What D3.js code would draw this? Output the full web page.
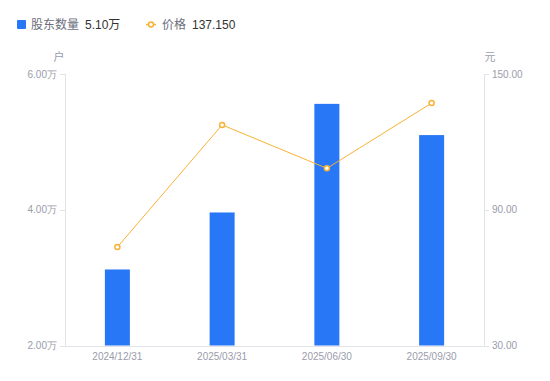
<!DOCTYPE html>
<html lang="zh">
<head>
<meta charset="UTF-8">
<title>股东数量 / 价格</title>
<script src="https://d3js.org/d3.v7.min.js"></script>
<style>
body { margin: 0; background: #fff; }
svg { font-family: "Liberation Sans", "Noto Sans CJK SC", sans-serif; }
.axis path, .axis line { stroke: #e3e4ea; shape-rendering: crispEdges; }
.axis text { fill: #9a9cab; font-size: 10px; }
.unit { fill: #9a9cab; font-size: 11px; }
.legendTxt { fill: #6b6e7c; font-size: 12px; }
.legendVal { fill: #333; font-size: 12px; }
</style>
</head>
<body>
<script>
var width = 550, height = 381;
var margin = {top: 74, right: 66, bottom: 35.5, left: 65};

// data
var dates = ["2024/12/31", "2025/03/31", "2025/06/30", "2025/09/30"];
var holders = [3.12, 3.96, 5.56, 5.10];     // 万户
var prices = [73.5, 127.5, 108.3, 137.15];  // 元
var leftTicks = [2, 4, 6];
var rightTicks = [30, 90, 150];

var svg = d3.select("body").append("svg")
    .attr("width", width)
    .attr("height", height);

var x = d3.scaleBand()
    .domain(dates)
    .range([margin.left, width - margin.right]);

var yL = d3.scaleLinear()
    .domain([2, 6])
    .range([height - margin.bottom, margin.top]);

var yR = d3.scaleLinear()
    .domain([30, 150])
    .range([height - margin.bottom, margin.top]);

// axes
svg.append("g").attr("class", "axis")
    .attr("transform", "translate(" + margin.left + ",0)")
    .call(d3.axisLeft(yL).tickValues(leftTicks).tickSizeOuter(0).tickSize(5).tickPadding(3)
        .tickFormat(function(d) { return d3.format(".2f")(d) + "万"; }));

svg.append("g").attr("class", "axis")
    .attr("transform", "translate(" + (width - margin.right) + ",0)")
    .call(d3.axisRight(yR).tickValues(rightTicks).tickSizeOuter(0).tickSize(5).tickPadding(3)
        .tickFormat(d3.format(".2f")));

var xAxis = svg.append("g").attr("class", "axis")
    .attr("transform", "translate(0," + (height - margin.bottom) + ")")
    .call(d3.axisBottom(x).tickSize(0).tickPadding(7));

// units
svg.append("text").attr("class", "unit")
    .attr("x", 59).attr("y", 61).attr("text-anchor", "middle").text("户");
svg.append("text").attr("class", "unit")
    .attr("x", 490).attr("y", 61).attr("text-anchor", "middle").text("元");

// bars
var barW = 25;
svg.append("g").selectAll("rect")
    .data(holders).enter()
    .append("rect")
    .attr("x", function(d, i) { return x(dates[i]) + x.bandwidth() / 2 - barW / 2; })
    .attr("y", function(d) { return yL(d); })
    .attr("width", barW)
    .attr("height", function(d) { return yL(2) - yL(d); })
    .attr("fill", "#2777f6");

// line
var line = d3.line()
    .x(function(d, i) { return x(dates[i]) + x.bandwidth() / 2; })
    .y(function(d) { return yR(d); });

svg.append("path")
    .datum(prices)
    .attr("d", line)
    .attr("fill", "none")
    .attr("stroke", "#f9b234")
    .attr("stroke-width", 1);

svg.append("g").selectAll("circle")
    .data(prices).enter()
    .append("circle")
    .attr("cx", function(d, i) { return x(dates[i]) + x.bandwidth() / 2; })
    .attr("cy", function(d) { return yR(d); })
    .attr("r", 2.5)
    .attr("fill", "#fff")
    .attr("stroke", "#f9b234")
    .attr("stroke-width", 1.5);

// legend
var lg = svg.append("g");
lg.append("rect").attr("x", 17).attr("y", 20).attr("width", 9).attr("height", 9)
    .attr("rx", 1).attr("fill", "#2777f6");
lg.append("text").attr("class", "legendTxt").attr("x", 31).attr("y", 29).text("股东数量");
lg.append("text").attr("class", "legendVal").attr("x", 85).attr("y", 29)
    .text(d3.format(".2f")(holders[holders.length - 1]) + "万");

lg.append("line").attr("x1", 146).attr("x2", 156).attr("y1", 24.5).attr("y2", 24.5)
    .attr("stroke", "#f9b234").attr("stroke-width", 1.5);
lg.append("circle").attr("cx", 151).attr("cy", 24.5).attr("r", 2.5)
    .attr("fill", "#fff").attr("stroke", "#f9b234").attr("stroke-width", 1.5);
lg.append("text").attr("class", "legendTxt").attr("x", 162).attr("y", 29).text("价格");
lg.append("text").attr("class", "legendVal").attr("x", 192).attr("y", 29)
    .text(d3.format(".3f")(prices[prices.length - 1]));
</script>
</body>
</html>
